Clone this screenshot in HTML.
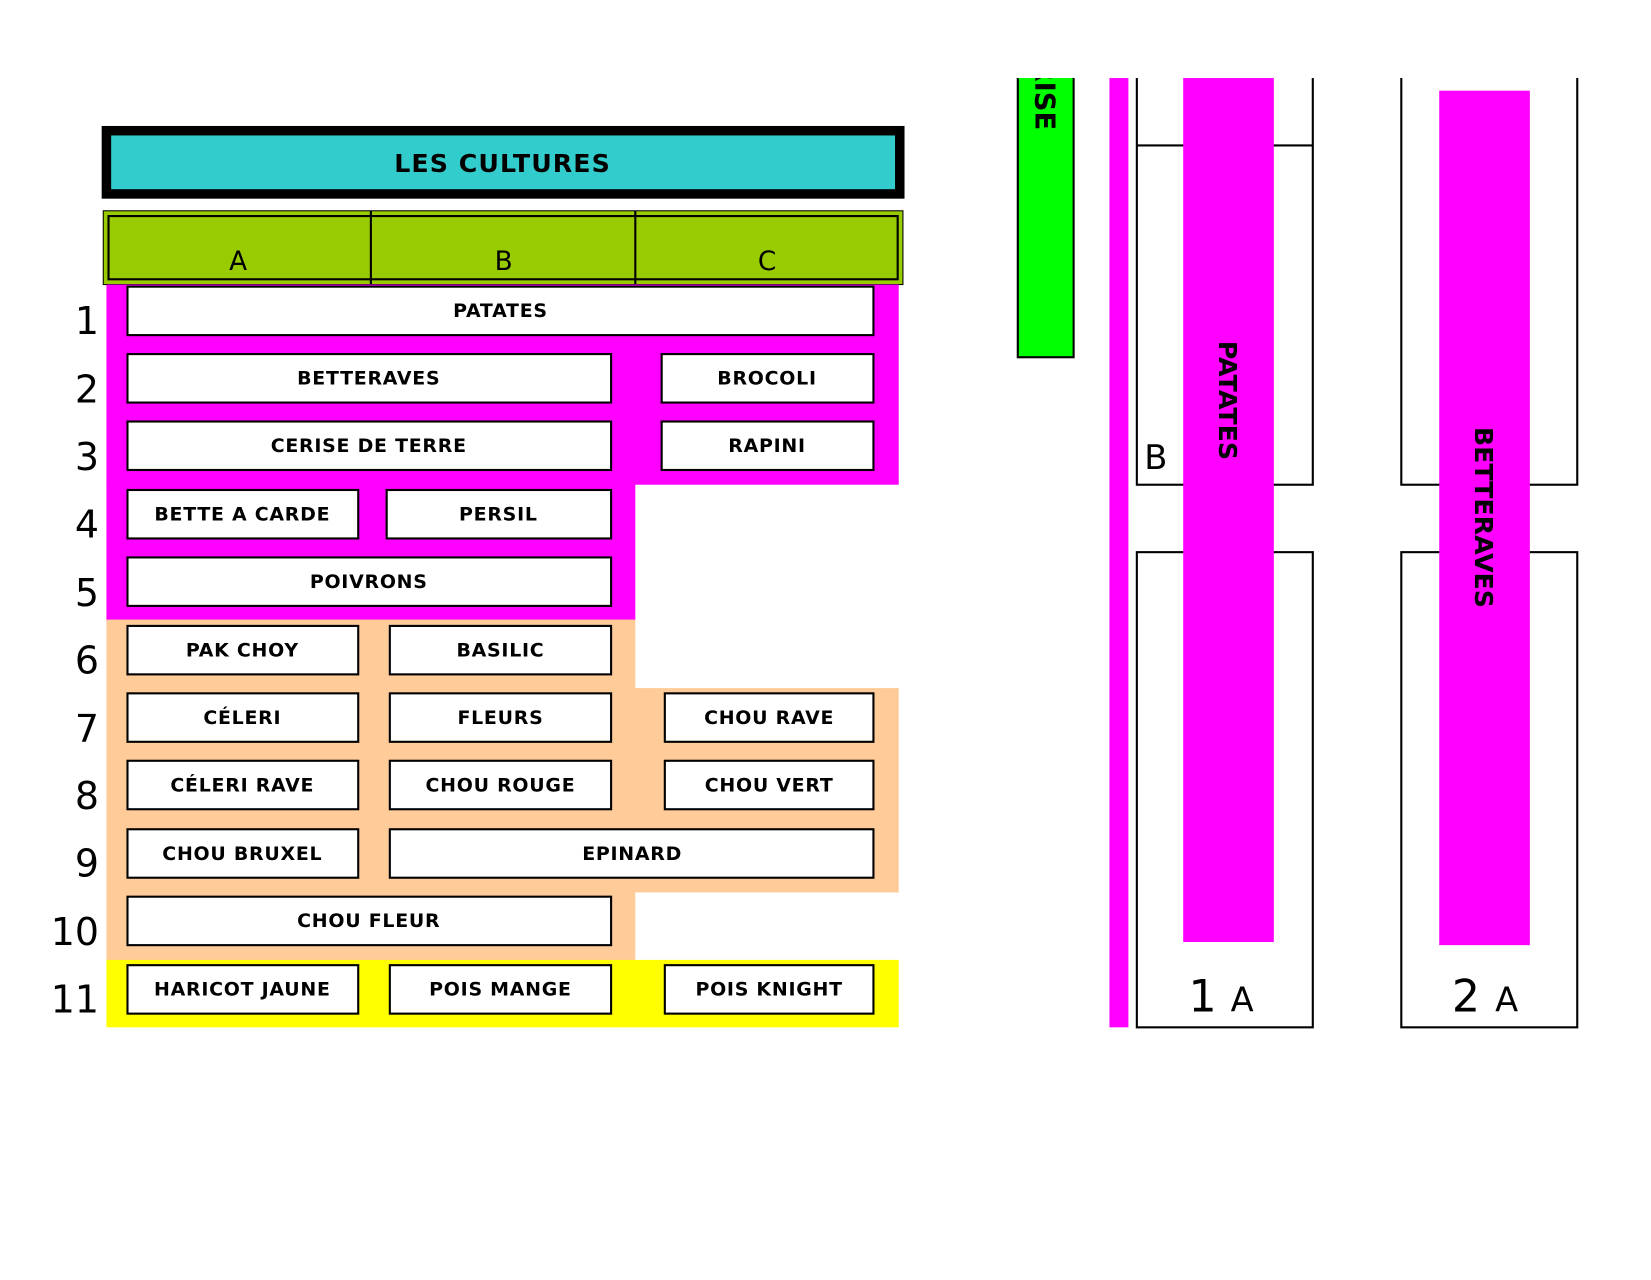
<!DOCTYPE html>
<html><head><meta charset="utf-8"><style>html,body{margin:0;padding:0;background:#fff}</style></head>
<body>
<svg width="1651" height="1275" viewBox="0 0 1567 1210" xmlns="http://www.w3.org/2000/svg" font-family="DejaVu Sans, Liberation Sans, sans-serif">
<rect width="1567" height="1210" fill="#fff"/>
<!-- title -->
<rect x="101" y="124" width="753" height="60" fill="#33cccc" stroke="#000" stroke-width="9"/>
<text x="477" y="163" font-size="24" font-weight="bold" text-anchor="middle" letter-spacing="1">LES CULTURES</text>
<!-- header -->
<rect x="98" y="200" width="759" height="70" fill="#99cc00" stroke="#000" stroke-width="1"/>
<rect x="103" y="205" width="749" height="60" fill="#99cc00" stroke="#000" stroke-width="2"/>
<line x1="352" y1="200" x2="352" y2="270" stroke="#000" stroke-width="2"/>
<line x1="603" y1="200" x2="603" y2="270" stroke="#000" stroke-width="2"/>
<g font-size="25" text-anchor="middle"><text x="226" y="256">A</text><text x="478" y="256">B</text><text x="728" y="256">C</text></g>
<!-- backgrounds -->
<rect x="101" y="270" width="752" height="190" fill="#ff00ff"/>
<rect x="101" y="459" width="502" height="130" fill="#ff00ff"/>
<rect x="101" y="588" width="502" height="66" fill="#ffcc99"/>
<rect x="101" y="653" width="752" height="194" fill="#ffcc99"/>
<rect x="101" y="846" width="502" height="66" fill="#ffcc99"/>
<rect x="101" y="911" width="752" height="64" fill="#ffff00"/>
<!-- row numbers -->
<g font-size="36" text-anchor="end">
<text x="94" y="317">1</text><text x="94" y="382">2</text><text x="94" y="446">3</text><text x="94" y="510">4</text><text x="94" y="575">5</text><text x="94" y="639">6</text><text x="94" y="704">7</text><text x="94" y="768">8</text><text x="94" y="832">9</text><text x="94" y="897">10</text><text x="94" y="961">11</text>
</g>
<!-- boxes -->
<g fill="#fff" stroke="#000" stroke-width="2">
<rect x="121" y="272" width="708" height="46"/>
<rect x="121" y="336" width="459" height="46"/><rect x="628" y="336" width="201" height="46"/>
<rect x="121" y="400" width="459" height="46"/><rect x="628" y="400" width="201" height="46"/>
<rect x="121" y="465" width="219" height="46"/><rect x="367" y="465" width="213" height="46"/>
<rect x="121" y="529" width="459" height="46"/>
<rect x="121" y="594" width="219" height="46"/><rect x="370" y="594" width="210" height="46"/>
<rect x="121" y="658" width="219" height="46"/><rect x="370" y="658" width="210" height="46"/><rect x="631" y="658" width="198" height="46"/>
<rect x="121" y="722" width="219" height="46"/><rect x="370" y="722" width="210" height="46"/><rect x="631" y="722" width="198" height="46"/>
<rect x="121" y="787" width="219" height="46"/><rect x="370" y="787" width="459" height="46"/>
<rect x="121" y="851" width="459" height="46"/>
<rect x="121" y="916" width="219" height="46"/><rect x="370" y="916" width="210" height="46"/><rect x="631" y="916" width="198" height="46"/>
</g>
<g font-size="18" font-weight="bold" text-anchor="middle" letter-spacing="0.7">
<text x="475" y="301">PATATES</text>
<text x="350" y="365">BETTERAVES</text><text x="728" y="365">BROCOLI</text>
<text x="350" y="429">CERISE DE TERRE</text><text x="728" y="429">RAPINI</text>
<text x="230" y="494">BETTE A CARDE</text><text x="473" y="494">PERSIL</text>
<text x="350" y="558">POIVRONS</text>
<text x="230" y="623">PAK CHOY</text><text x="475" y="623">BASILIC</text>
<text x="230" y="687">CÉLERI</text><text x="475" y="687">FLEURS</text><text x="730" y="687">CHOU RAVE</text>
<text x="230" y="751">CÉLERI RAVE</text><text x="475" y="751">CHOU ROUGE</text><text x="730" y="751">CHOU VERT</text>
<text x="230" y="816">CHOU BRUXEL</text><text x="600" y="816">EPINARD</text>
<text x="350" y="880">CHOU FLEUR</text>
<text x="230" y="945">HARICOT JAUNE</text><text x="475" y="945">POIS MANGE</text><text x="730" y="945">POIS KNIGHT</text>
</g>
<!-- right side -->
<rect x="966" y="60" width="53" height="279" fill="#00ff00" stroke="#000" stroke-width="2"/>
<text transform="translate(983,72) rotate(90)" font-size="26" font-weight="bold" text-anchor="middle">CERISE</text>
<rect x="1053" y="60" width="18" height="915" fill="#ff00ff"/>
<g fill="none" stroke="#000" stroke-width="2">
<rect x="1079" y="60" width="167" height="400"/>
<line x1="1079" y1="138" x2="1246" y2="138"/>
<rect x="1079" y="524" width="167" height="451"/>
<rect x="1330" y="60" width="167" height="400"/>
<rect x="1330" y="524" width="167" height="451"/>
</g>
<rect x="1123" y="60" width="86" height="834" fill="#ff00ff"/>
<rect x="1366" y="86" width="86" height="811" fill="#ff00ff"/>
<rect x="0" y="0" width="1567" height="74" fill="#fff"/>
<text transform="translate(1157,380) rotate(90)" font-size="24" font-weight="bold" text-anchor="middle">PATATES</text>
<text transform="translate(1400,491) rotate(90)" font-size="24" font-weight="bold" text-anchor="middle">BETTERAVES</text>
<text x="1086" y="445" font-size="32">B</text>
<text x="1128" y="960" font-size="42">1</text><text x="1168" y="960" font-size="32">A</text>
<text x="1378" y="960" font-size="42">2</text><text x="1419" y="960" font-size="32">A</text>
</svg>
</body></html>
